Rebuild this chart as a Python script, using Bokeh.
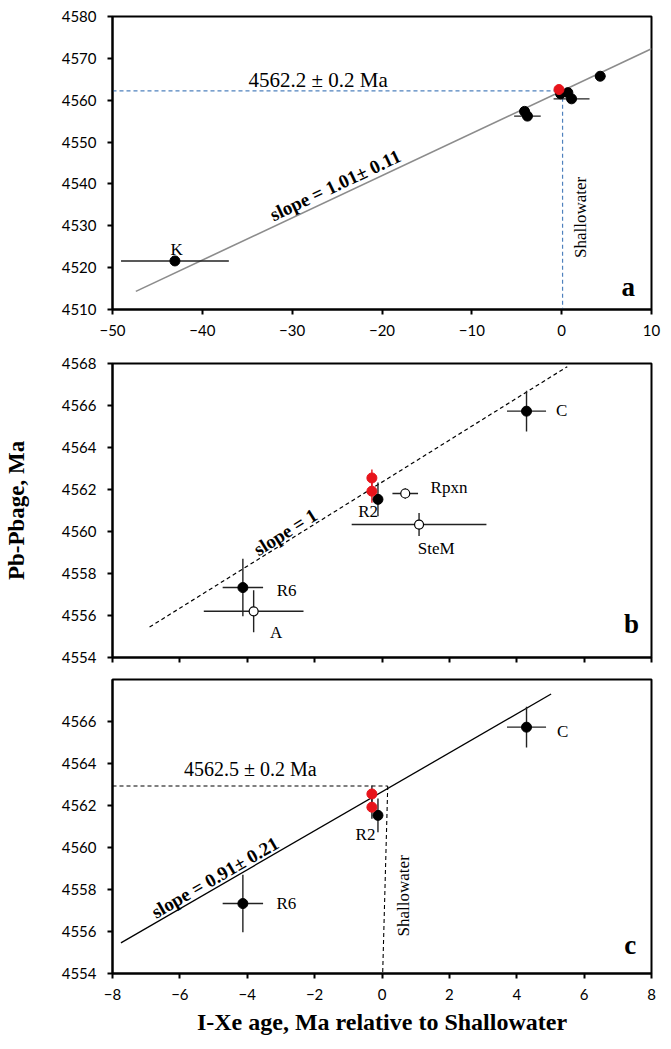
import numpy as np
from bokeh.plotting import figure
from bokeh.layouts import column
from bokeh.models import Range1d, FixedTicker, Label
from bokeh.embed import file_html
from bokeh.resources import INLINE

# ---------------- data ----------------
samples = ["C", "R2", "Rpxn", "SteM", "R6", "A"]
ixe_age = [4.29, -0.12, 0.69, 1.10, -4.13, -3.81]          # I-Xe age, Ma rel. to Shallowater
pbpb_age = [4565.73, 4561.53, 4561.81, 4560.33, 4557.33, 4556.20]  # Pb-Pb age, Ma
ixe_err = [0.58, 0.0, 0.38, 2.0, 0.6, 1.48]
pbpb_err = [0.97, 0.8, 0.25, 0.55, 1.37, 1.0]
filled = [True, True, False, False, True, False]

red_ixe = [-0.30, -0.30]
red_pbpb = [4562.55, 4561.92]
red_err = [0.4, 0.55]

k_ixe = [-43.05]
k_pbpb = [4521.6]
k_err = [6.0]

fit_a_slope, fit_a_intercept, fit_a_x = 1.01, 4562.2, [-47.4, 10.0]
fit_b_slope, fit_b_intercept, fit_b_x = 1.0, 4562.35, [-6.9, 5.5]
fit_c_x, fit_c_y = [-7.75, 5.02], [4555.46, 4567.31]

sw_a_x, sw_a_y = 0.1, 4562.25
sw_c_x_top, sw_c_x_bot, sw_c_y = 0.17, 0.02, 4562.93

SERIF = "Liberation Serif"
SANS = "Lato"


def style(p, xticks, yticks, xlabels=True):
    p.outline_line_color = "black"
    p.outline_line_width = 2
    p.outline_line_alpha = 1
    p.xgrid.visible = False
    p.ygrid.visible = False
    p.background_fill_color = "white"
    p.border_fill_color = "white"
    if xlabels:
        p.xaxis.ticker = FixedTicker(ticks=xticks)
    else:
        p.xaxis.ticker = FixedTicker(ticks=[], minor_ticks=xticks)
    p.yaxis.ticker = FixedTicker(ticks=yticks)
    for ax in (p.xaxis[0], p.yaxis[0]):
        ax.axis_line_width = 2
        ax.axis_line_color = "black"
        ax.major_tick_line_width = 2
        ax.major_tick_line_color = "black"
        ax.major_tick_in = 0
        ax.major_tick_out = 5
        ax.minor_tick_line_color = None
        ax.major_label_text_font = SANS
        ax.major_label_text_font_size = "15px"
        ax.major_label_text_color = "black"
    p.xaxis.major_label_standoff = 10
    p.yaxis.major_label_standoff = 11
    if not xlabels:
        ax = p.xaxis[0]
        ax.minor_tick_line_color = "black"
        ax.minor_tick_line_width = 2
        ax.minor_tick_in = 0
        ax.minor_tick_out = 5
        ax.major_label_standoff = 0


def lbl(p, x, y, text, size="17px", bold=False, angle=0.0, color="black"):
    p.add_layout(Label(x=x, y=y, text=text, text_font=SERIF, text_font_size=size,
                       text_font_style="bold" if bold else "normal",
                       text_align="center", text_baseline="middle",
                       angle=angle, angle_units="deg", text_color=color))


def errorbars(p, xs, ys, xe, ye, color="#222222", width=1.4):
    xs, ys, xe, ye = map(np.asarray, (xs, ys, xe, ye))
    m = xe > 0
    if m.any():
        p.segment(xs[m] - xe[m], ys[m], xs[m] + xe[m], ys[m], line_color=color, line_width=width)
    m = ye > 0
    if m.any():
        p.segment(xs[m], ys[m] - ye[m], xs[m], ys[m] + ye[m], line_color=color, line_width=width)


# ---------------- panel a ----------------
pa = figure(width=663, height=349, output_backend="svg", toolbar_location=None,
            x_range=Range1d(-50, 10), y_range=Range1d(4510, 4580),
            min_border_left=112, min_border_right=12, min_border_top=16, min_border_bottom=40)
style(pa, list(range(-50, 11, 10)), list(range(4510, 4581, 10)))

fa_x = np.array(fit_a_x)
pa.line(fa_x, fit_a_intercept + fit_a_slope * fa_x, line_color="#8c8c8c", line_width=1.6)
pa.line([-50, sw_a_x], [sw_a_y, sw_a_y], line_color="#4f81bd", line_width=1.2, line_dash="4 3")
pa.line([sw_a_x, sw_a_x], [sw_a_y, 4510], line_color="#4f81bd", line_width=1.2, line_dash="4 3")

errorbars(pa, k_ixe + ixe_age, k_pbpb + pbpb_age, k_err + ixe_err, [0.0] * (1 + len(ixe_age)))
pa.scatter(k_ixe + ixe_age, k_pbpb + pbpb_age, size=10, marker="circle",
           fill_color="black", line_color="black")
pa.scatter(red_ixe[:1], red_pbpb[:1], size=10, marker="circle", fill_color="#e8141b", line_color="#e8141b")

lbl(pa, -27.1, 4564.9, "4562.2 ± 0.2 Ma", size="21px")
lbl(pa, -25.2, 4539.7, "slope = 1.01± 0.11", size="19px", bold=True, angle=25.3)
lbl(pa, 2.05, 4532.0, "Shallowater", size="17px", angle=90)
lbl(pa, -42.86, 4524.3, "K", size="17px")
lbl(pa, 7.42, 4515.3, "a", size="27px", bold=True)

# ---------------- panel b ----------------
pb = figure(width=663, height=318, output_backend="svg", toolbar_location=None,
            x_range=Range1d(-8, 8), y_range=Range1d(4554, 4568),
            min_border_left=110, min_border_right=9, min_border_top=14, min_border_bottom=10)
style(pb, list(range(-8, 9, 2)), list(range(4554, 4569, 2)), xlabels=False)
pb.yaxis.axis_label = "Pb-Pbage, Ma"
pb.yaxis.axis_label_text_font = SERIF
pb.yaxis.axis_label_text_font_style = "bold"
pb.yaxis.axis_label_text_font_size = "23px"
pb.yaxis.axis_label_text_color = "black"
pb.yaxis.axis_label_standoff = 30

fb_x = np.array(fit_b_x)
pb.line(fb_x, fit_b_intercept + fit_b_slope * fb_x, line_color="black", line_width=1.2, line_dash="4 3")

errorbars(pb, ixe_age, pbpb_age, ixe_err, pbpb_err)
errorbars(pb, red_ixe, red_pbpb, [0, 0], red_err, color="#e8141b")
fx = [x for x, f in zip(ixe_age, filled) if f]
fy = [y for y, f in zip(pbpb_age, filled) if f]
ox = [x for x, f in zip(ixe_age, filled) if not f]
oy = [y for y, f in zip(pbpb_age, filled) if not f]
pb.scatter(fx, fy, size=10, marker="circle", fill_color="black", line_color="black")
pb.scatter(ox, oy, size=9, marker="circle", fill_color="white", line_color="black", line_width=1.2)
pb.scatter(red_ixe, red_pbpb, size=10, marker="circle", fill_color="#e8141b", line_color="#e8141b")

lbl(pb, 5.33, 4565.77, "C")
lbl(pb, 1.99, 4562.08, "Rpxn")
lbl(pb, -0.41, 4560.97, "R2")
lbl(pb, 1.61, 4559.17, "SteM")
lbl(pb, -2.83, 4557.21, "R6")
lbl(pb, -3.14, 4555.19, "A")
lbl(pb, -2.87, 4559.97, "slope = 1", size="19px", bold=True, angle=32)
lbl(pb, 7.41, 4555.6, "b", size="27px", bold=True)

# ---------------- panel c ----------------
pc = figure(width=663, height=374, output_backend="svg", toolbar_location=None,
            x_range=Range1d(-8, 8), y_range=Range1d(4554, 4568),
            min_border_left=108, min_border_right=9, min_border_top=12, min_border_bottom=68)
style(pc, list(range(-8, 9, 2)), list(range(4554, 4567, 2)))
pc.xaxis.axis_label = "I-Xe age, Ma relative to Shallowater"
pc.xaxis.axis_label_text_font = SERIF
pc.xaxis.axis_label_text_font_style = "bold"
pc.xaxis.axis_label_text_font_size = "24px"
pc.xaxis.axis_label_text_color = "black"
pc.xaxis.axis_label_standoff = 6

pc.line(fit_c_x, fit_c_y, line_color="black", line_width=1.3)
pc.line([-8, sw_c_x_top], [sw_c_y, sw_c_y], line_color="black", line_width=1.1, line_dash="4 3")
pc.line([sw_c_x_top, sw_c_x_bot], [sw_c_y, 4554], line_color="black", line_width=1.1, line_dash="4 3")

keep = [s in ("C", "R2", "R6") for s in samples]
cx = [v for v, k in zip(ixe_age, keep) if k]
cy = [v for v, k in zip(pbpb_age, keep) if k]
cxe = [v for v, k in zip(ixe_err, keep) if k]
cye = [v for v, k in zip(pbpb_err, keep) if k]
errorbars(pc, cx, cy, cxe, cye)
errorbars(pc, red_ixe, red_pbpb, [0, 0], red_err)
pc.scatter(cx, cy, size=10, marker="circle", fill_color="black", line_color="black")
pc.scatter(red_ixe, red_pbpb, size=10, marker="circle", fill_color="#e8141b", line_color="#e8141b")

lbl(pc, -3.91, 4563.73, "4562.5 ± 0.2 Ma", size="20px")
lbl(pc, -4.96, 4558.57, "slope = 0.91± 0.21", size="19px", bold=True, angle=30)
lbl(pc, 0.64, 4557.7, "Shallowater", size="17px", angle=90)
lbl(pc, 5.36, 4565.53, "C")
lbl(pc, -0.49, 4560.61, "R2")
lbl(pc, -2.84, 4557.34, "R6")
lbl(pc, 7.37, 4555.34, "c", size="27px", bold=True)

layout = column(pa, pb, pc, spacing=0)
open("out.html", "w").write(file_html(layout, INLINE))
